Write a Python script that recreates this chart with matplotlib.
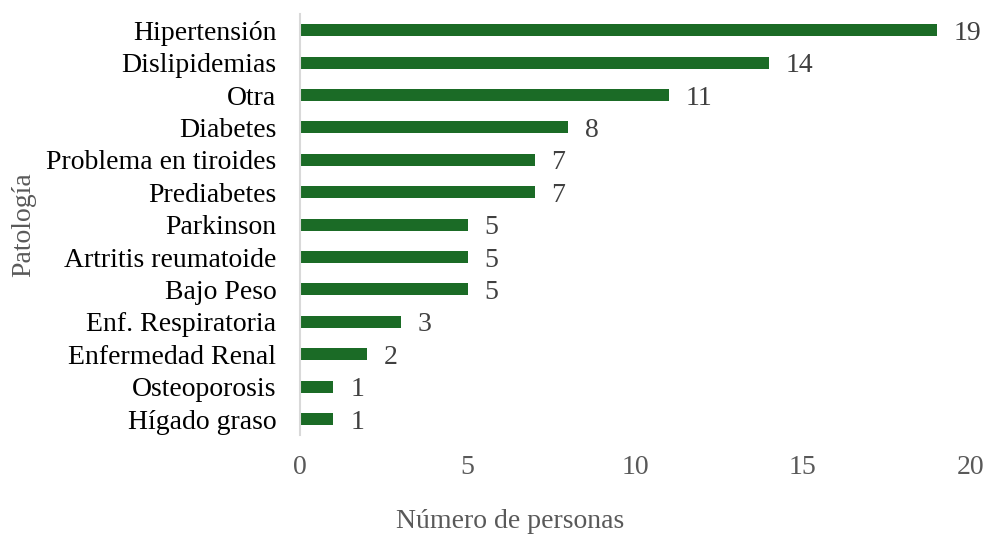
import matplotlib
matplotlib.use("Agg")
import matplotlib.pyplot as plt

categories = ["Hipertensión", "Dislipidemias", "Otra", "Diabetes", "Problema en tiroides",
              "Prediabetes", "Parkinson", "Artritis reumatoide", "Bajo Peso",
              "Enf. Respiratoria", "Enfermedad Renal", "Osteoporosis", "Hígado graso"]
values = [19, 14, 11, 8, 7, 7, 5, 5, 5, 3, 2, 1, 1]
xticks = [0, 5, 10, 15, 20]

plt.rcParams['font.family'] = ['Liberation Serif', 'DejaVu Serif']

fig = plt.figure(figsize=(9.9, 5.4), dpi=100)
ax = fig.add_axes([0.303, 0.194, 0.677, 0.780])

y = list(range(len(categories)))
ax.barh(y, values, height=0.37, color="#1b6b26")
ax.set_ylim(len(categories) - 0.5, -0.5)
ax.set_xlim(0, 20)
ax.set_xticks(xticks)
ax.set_yticks(y)
ax.set_yticklabels(categories, fontsize=20, color="#000000")
ax.tick_params(axis='x', labelsize=20, labelcolor="#595959", length=0, pad=14)
ax.tick_params(axis='y', length=0, pad=17)

for s in ["top", "right", "bottom"]:
    ax.spines[s].set_visible(False)
ax.spines["left"].set_color("#d9d9d9")
ax.spines["left"].set_linewidth(1.5)

for yi, v in zip(y, values):
    ax.text(v + 0.5, yi, str(v), va="center_baseline", ha="left", fontsize=20, color="#404040")

ax.set_xlabel("Número de personas", fontsize=20, color="#595959")
ax.xaxis.set_label_coords((510 - 300) / 670, -0.175)
ax.set_ylabel("Patología", fontsize=20, color="#595959")
ax.yaxis.set_label_coords(-0.394, 0.5)

fig.savefig("out.png", dpi=100)
